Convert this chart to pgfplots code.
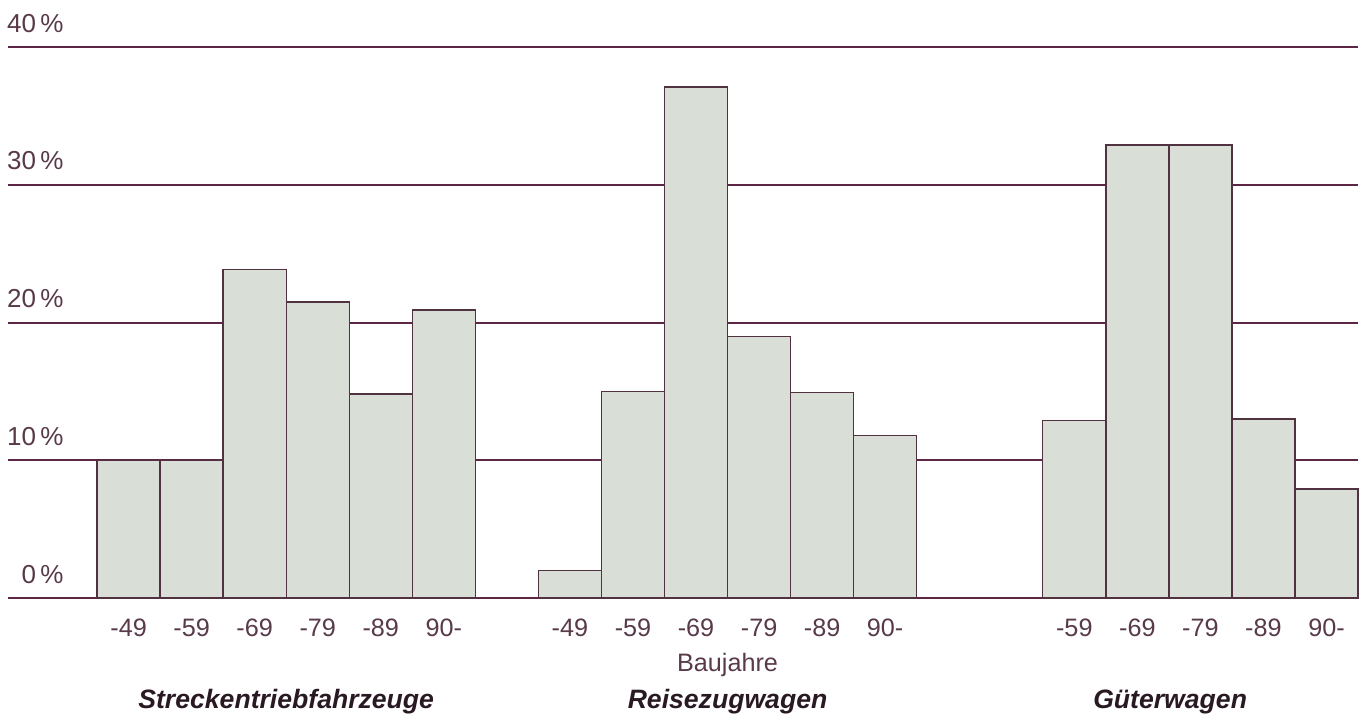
\documentclass[border=0pt]{standalone}
\usepackage{fontspec}
\setmainfont{Liberation Sans}
\usepackage{pgfplots}
\pgfplotsset{compat=1.18}
\definecolor{gridmaroon}{RGB}{92,38,68}
\definecolor{barfill}{RGB}{217,222,215}
\definecolor{baredge}{RGB}{80,50,65}
\definecolor{labeltxt}{RGB}{88,58,74}
\definecolor{grouptxt}{RGB}{40,25,35}

% bar i sits between x=i and x=i+1, 1 unit = 63 px of the original
\pgfplotstableread{
x     y
0.5   10.0
1.5   10.0
2.5   23.85
3.5   21.5
4.5   14.8
5.5   20.9
7.5   2.0
8.5   15.0
9.5   37.1
10.5  19.0
11.5  14.9
12.5  11.8
15.5  12.9
16.5  32.9
17.5  32.9
18.5  13.0
19.5  7.9
}\anteil

\begin{document}
\begin{tikzpicture}
\useasboundingbox (-4pt,-61pt) rectangle (680pt,299pt);
\begin{axis}[
    at={(0,0)}, anchor=south west,
    scale only axis,
    width=675pt, height=275.5pt,
    xmin=-1.413, xmax=20,
    ymin=0, ymax=40,
    axis line style={draw=none},
    tick style={draw=none},
    ymajorgrids,
    grid style={gridmaroon, line width=1pt},
    ytick={0,10,20,30,40},
    yticklabel={\pgfmathprintnumber{\tick}\,\%},
    yticklabel style={anchor=base east, inner sep=0pt, xshift=28pt, yshift=7.5pt,
        font=\fontsize{13}{15}\selectfont, text=labeltxt},
    xtick={0.5,1.5,2.5,3.5,4.5,5.5,7.5,8.5,9.5,10.5,11.5,12.5,15.5,16.5,17.5,18.5,19.5},
    xticklabels={-49,-59,-69,-79,-89,90-,-49,-59,-69,-79,-89,90-,-59,-69,-79,-89,90-},
    xticklabel style={anchor=center, inner sep=0pt, yshift=-15pt,
        font=\fontsize{12.6}{14}\selectfont, text=labeltxt},
    /pgf/number format/assume math mode=true,
    clip=false,
]
\addplot[ybar, bar width=1, fill=barfill, draw=baredge, line width=0.7pt]
    table[x=x, y=y] {\anteil};

\node[font=\fontsize{12.6}{14}\selectfont, text=labeltxt]
    at (axis cs:10,0) [yshift=-33.5pt] {Baujahre};
\node[font=\fontsize{13.3}{15}\selectfont\bfseries\itshape, text=grouptxt]
    at (axis cs:3,0) [yshift=-52pt] {Streckentriebfahrzeuge};
\node[font=\fontsize{13.3}{15}\selectfont\bfseries\itshape, text=grouptxt]
    at (axis cs:10,0) [yshift=-52pt] {Reisezugwagen};
\node[font=\fontsize{13.3}{15}\selectfont\bfseries\itshape, text=grouptxt]
    at (axis cs:17.02,0) [yshift=-52pt] {Güterwagen};
\end{axis}
\end{tikzpicture}
\end{document}
